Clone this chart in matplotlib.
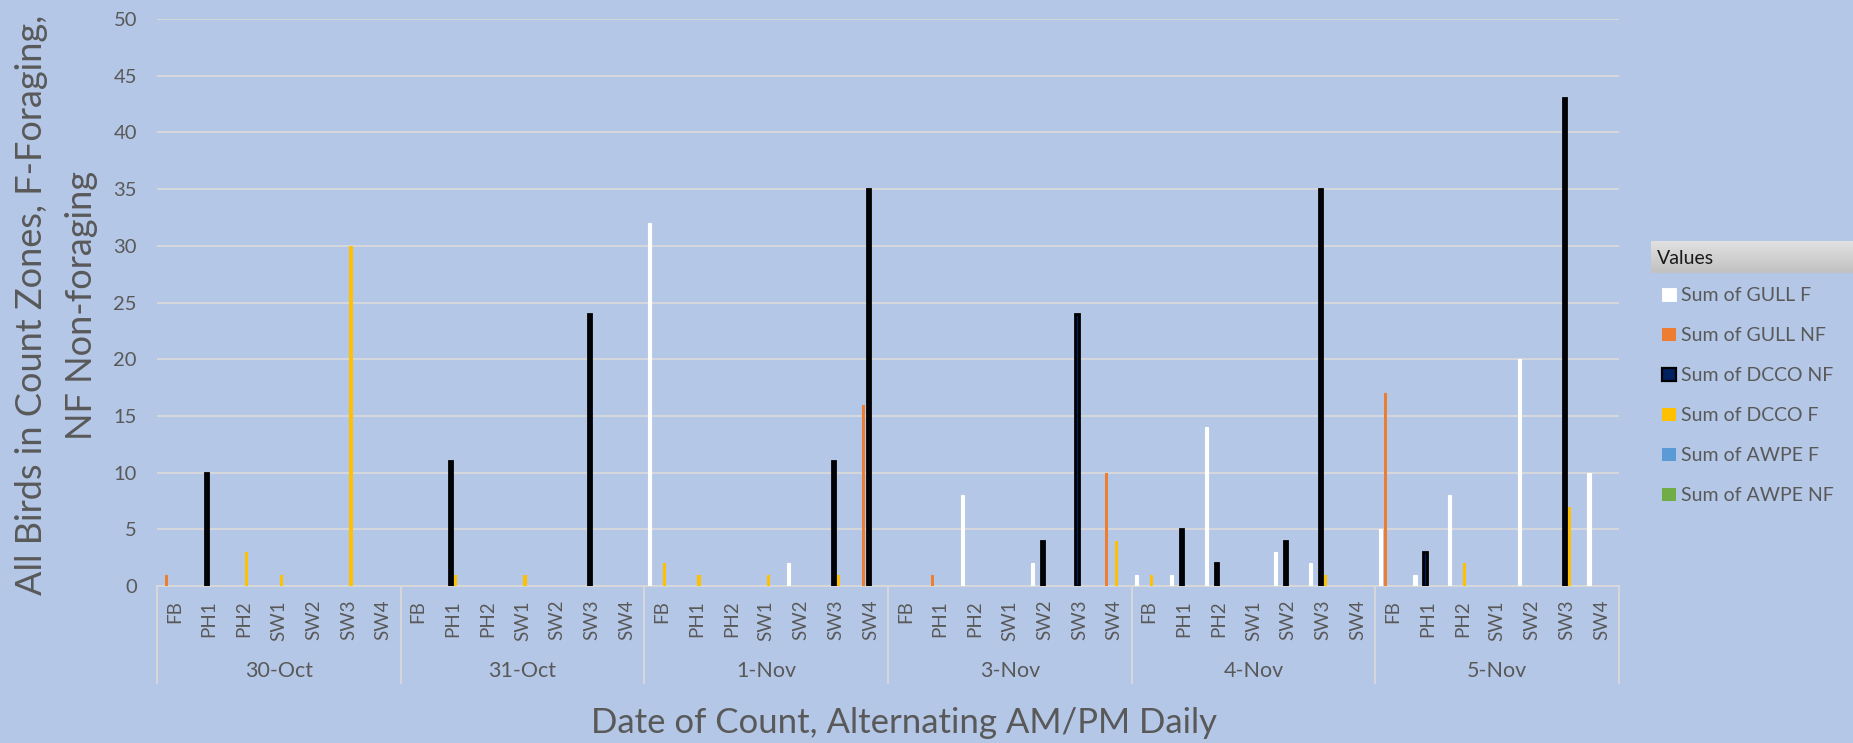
#Bird counts by zone and date, clustered columns

import numpy as np
import matplotlib
matplotlib.use('Agg')
import matplotlib.pyplot as plt
from matplotlib.patches import Rectangle
from matplotlib.transforms import blended_transform_factory

dates = ['30-Oct', '31-Oct', '1-Nov', '3-Nov', '4-Nov', '5-Nov']
zones = ['FB', 'PH1', 'PH2', 'SW1', 'SW2', 'SW3', 'SW4']

#one value per (date, zone), zones in the order above
gull_f = [0, 0, 0, 0, 0, 0, 0,
          0, 0, 0, 0, 0, 0, 0,
          32, 0, 0, 0, 2, 0, 0,
          0, 0, 8, 0, 2, 0, 0,
          1, 1, 14, 0, 3, 2, 0,
          5, 1, 8, 0, 20, 0, 10]
gull_nf = [1, 0, 0, 0, 0, 0, 0,
           0, 0, 0, 0, 0, 0, 0,
           0, 0, 0, 0, 0, 0, 16,
           0, 1, 0, 0, 0, 0, 10,
           0, 0, 0, 0, 0, 0, 0,
           17, 0, 0, 0, 0, 0, 0]
dcco_nf = [0, 10, 0, 0, 0, 0, 0,
           0, 11, 0, 0, 0, 24, 0,
           0, 0, 0, 0, 0, 11, 35,
           0, 0, 0, 0, 4, 24, 0,
           0, 5, 2, 0, 4, 35, 0,
           0, 3, 0, 0, 0, 43, 0]
dcco_f = [0, 0, 3, 1, 0, 30, 0,
          0, 1, 0, 1, 0, 0, 0,
          2, 1, 0, 1, 0, 1, 0,
          0, 0, 0, 0, 0, 0, 4,
          1, 0, 0, 0, 0, 1, 0,
          0, 0, 2, 0, 0, 7, 0]
awpe_f = [0] * 42
awpe_nf = [0] * 42

series_names = ['Sum of GULL F', 'Sum of GULL NF', 'Sum of DCCO NF',
                'Sum of DCCO F', 'Sum of AWPE F', 'Sum of AWPE NF']
series_vals = [gull_f, gull_nf, dcco_nf, dcco_f, awpe_f, awpe_nf]
face = ['#FFFFFF', '#ED7D31', '#002060', '#FFC000', '#5B9BD5', '#70AD47']
edge = ['#FFFFFF', '#ED7D31', '#000000', '#FFC000', '#5B9BD5', '#70AD47']
lw = [0.8, 0, 2.0, 0, 0, 0]

bg = '#B4C7E7'
grid_c = '#D9D9D9'
txt_c = '#595959'
font = ['Lato', 'DejaVu Sans']
W, H = 1853, 743

fig = plt.figure(figsize=(W / 100, H / 100), dpi=100, facecolor=bg)
ax = fig.add_axes([157 / W, 1 - 586 / H, 1462 / W, 567 / H])
ax.set_facecolor(bg)

x = np.arange(len(dates) * len(zones))
step = 0.144
for k, vals in enumerate(series_vals):
    v = np.array(vals)
    m = v > 0
    ax.bar(x[m] + (k - 2.5) * step, v[m], width=0.09, color=face[k],
           edgecolor=edge[k], linewidth=lw[k], zorder=3)

ax.set_xlim(-0.5, len(x) - 0.5)
ax.set_ylim(0, 50)
ax.set_yticks(np.arange(0, 51, 5))
ax.yaxis.grid(True, color=grid_c, linewidth=1.3, zorder=0)
ax.tick_params(axis='y', length=0, pad=14.4, labelsize=14.5, labelcolor=txt_c)
for t in ax.get_yticklabels():
    t.set_family(font)

ax.set_xticks(x)
ax.set_xticklabels(zones * len(dates), rotation=90, fontsize=13.5, color=txt_c,
                   family=font, va='top')
ax.tick_params(axis='x', length=0, pad=10)

for s in ['top', 'right', 'left']:
    ax.spines[s].set_visible(False)
ax.spines['bottom'].set_color(grid_c)
ax.spines['bottom'].set_linewidth(1.3)

#date group separators and labels under the zone labels
tr = blended_transform_factory(ax.transData, ax.transAxes)
for i in range(len(dates) + 1):
    xb = i * len(zones) - 0.5
    ax.plot([xb, xb], [0, -97 / 567], transform=tr, color=grid_c, lw=1.3,
            clip_on=False)
for i, d in enumerate(dates):
    ax.text(i * len(zones) + 3, -(677 - 586) / 567, d, transform=tr,
            ha='center', va='baseline', fontsize=15.5, color=txt_c, family=font)

fig.text(904 / W, 1 - 733 / H, 'Date of Count, Alternating AM/PM Daily',
         ha='center', va='baseline', fontsize=25, color=txt_c, family=font)
fig.text(32 / W, 1 - 305 / H, 'All Birds in Count Zones, F-Foraging,',
         rotation=90, ha='center', va='center', fontsize=26, color=txt_c,
         family=font)
fig.text(82 / W, 1 - 305 / H, 'NF Non-foraging',
         rotation=90, ha='center', va='center', fontsize=26, color=txt_c,
         family=font)

#legend: grey gradient "Values" header then one row per series
hax = fig.add_axes([1651 / W, 1 - 273 / H, 202 / W, 32 / H])
hax.imshow(np.linspace(0.88, 0.76, 32).reshape(-1, 1), cmap='gray', vmin=0, vmax=1,
           aspect='auto', extent=(0, 1, 0, 1))
hax.axis('off')
fig.text(1657 / W, 1 - 264 / H, 'Values', ha='left', va='baseline',
         fontsize=14, color='#1A1A1A', family=font)
for k, name in enumerate(series_names):
    base = 301 + 40 * k
    fig.patches.append(Rectangle((1662 / W, 1 - base / H), 14 / W, 13 / H,
                                 transform=fig.transFigure, facecolor=face[k],
                                 edgecolor=edge[k], linewidth=lw[k] * 0.8))
    fig.text(1681 / W, 1 - base / H, name, ha='left', va='baseline',
             fontsize=14, color=txt_c, family=font)

plt.savefig('out.png', dpi=100, facecolor=bg)
plt.close()
